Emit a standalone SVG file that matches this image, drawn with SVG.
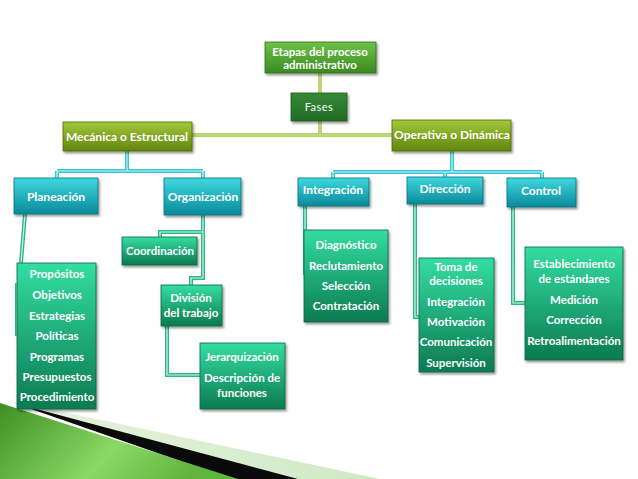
<svg xmlns="http://www.w3.org/2000/svg" width="638" height="479" viewBox="0 0 638 479">
<defs>
<linearGradient id="gTop" x1="0" y1="0" x2="0" y2="1"><stop offset="0" stop-color="#6cc247"/><stop offset="1" stop-color="#3b8a21"/></linearGradient>
<linearGradient id="gFases" x1="0" y1="0" x2="0" y2="1"><stop offset="0" stop-color="#348a36"/><stop offset="1" stop-color="#236b26"/></linearGradient>
<linearGradient id="gOlive" x1="0" y1="0" x2="0" y2="1"><stop offset="0" stop-color="#a2c83a"/><stop offset="1" stop-color="#62850f"/></linearGradient>
<linearGradient id="gCyan" x1="0" y1="0" x2="0" y2="1"><stop offset="0" stop-color="#3fd8df"/><stop offset="1" stop-color="#0a8a9a"/></linearGradient>
<linearGradient id="gTeal" x1="0" y1="0" x2="0" y2="1"><stop offset="0" stop-color="#34dda2"/><stop offset="1" stop-color="#0c7a52"/></linearGradient>
<linearGradient id="gWedge" x1="0" y1="0" x2="1" y2="0.3"><stop offset="0" stop-color="#3e8f22"/><stop offset="0.6" stop-color="#8ad866"/><stop offset="1" stop-color="#5fb43c"/></linearGradient>
<linearGradient id="gPale" x1="0" y1="0" x2="1" y2="0"><stop offset="0" stop-color="#e6f3df"/><stop offset="1" stop-color="#cfe9c4"/></linearGradient>
<filter id="sh" x="-10%" y="-10%" width="130%" height="140%"><feDropShadow dx="1.5" dy="2" stdDeviation="1.2" flood-color="#000" flood-opacity="0.4"/></filter>
</defs>
<style>
text{font-family:Lato,"Liberation Sans",sans-serif;font-weight:bold;fill:#fff;text-anchor:middle;font-size:11.5px}
.h{font-size:12px}
.reg{font-weight:normal;font-size:11px;letter-spacing:0.5px}
.box{filter:url(#sh);stroke-width:0.8}
.top{fill:url(#gTop);stroke:#2f6f1a}
.fases{fill:url(#gFases);stroke:#1c5a1f}
.olive{fill:url(#gOlive);stroke:#4f6a0c}
.cyan{fill:url(#gCyan);stroke:#0a6f7c}
.teal{fill:url(#gTeal);stroke:#0a6444}
.cg{fill:none;stroke:#9cc73f;stroke-width:3.5}
.cgi{fill:none;stroke:#d8ecb0;stroke-width:1}
.cc{fill:none;stroke:#38c6d4;stroke-width:4}
.cci{fill:none;stroke:#c8f2f5;stroke-width:1.2}
.ct{fill:none;stroke:#27bb85;stroke-width:4}
.cti{fill:none;stroke:#d0f5e6;stroke-width:1.2}
</style>
<rect width="638" height="479" fill="#fff"/>
<!-- bottom decoration -->
<polygon points="30,405 380,479 225,479" fill="url(#gPale)"/>
<polygon points="14,403 298,479 232,479" fill="#0a0a0a"/>
<polygon points="0,403 0,479 238,479" fill="url(#gWedge)"/>
<g id="connectors">
<path class="cg" d="M320,73 V93 M320,121 V135 M192,135 H392"/>
<path class="cgi" d="M320,73 V93 M320,121 V135 M192,135 H392"/>
<path class="cc" d="M127,151 V171 M57,171 H203 M57,171 V178 M203,171 V178 M452,151 V172 M333,172 H542 M333,172 V178 M445,172 V178 M542,172 V178"/>
<path class="cci" d="M127,151 V171 M57,171 H203 M57,171 V178 M203,171 V178 M452,151 V172 M333,172 H542 M333,172 V178 M445,172 V178 M542,172 V178"/>
<path class="ct" d="M25,214 L21,263 M17,283 V336 M203,215 V278 H191 V285 M203,232 H160 V237 M167,326 V375 H200 M305,206 V275 M415,204 V317 H419 M513,207 V303 H525"/>
<path class="cti" d="M25,214 L21,263 M17,283 V336 M203,215 V278 H191 V285 M203,232 H160 V237 M167,326 V375 H200 M305,206 V275 M415,204 V317 H419 M513,207 V303 H525"/>
</g>
<g id="etapas"><rect class="box top" x="265" y="42" width="111" height="31"/><text x="320" y="56">Etapas del proceso</text><text x="320" y="69">administrativo</text></g>
<g id="fases"><rect class="box fases" x="291" y="93" width="56" height="28"/><text class="reg" x="319" y="111">Fases</text></g>
<g id="mecanica"><rect class="box olive" x="63" y="122" width="129" height="29"/><text class="h" x="127" y="141">Mecánica o Estructural</text></g>
<g id="operativa"><rect class="box olive" x="392" y="120" width="119" height="31"/><text class="h" x="452" y="139">Operativa o Dinámica</text></g>
<g id="planeacion"><rect class="box cyan" x="14" y="178" width="84" height="36"/><text class="h" x="56" y="201">Planeación</text></g>
<g id="organizacion"><rect class="box cyan" x="164" y="178" width="77" height="37"/><text class="h" x="203" y="201">Organización</text></g>
<g id="integracion"><rect class="box cyan" x="298" y="178" width="71" height="28"/><text class="h" x="333" y="194">Integración</text></g>
<g id="direccion"><rect class="box cyan" x="407" y="177" width="76" height="27"/><text class="h" x="445" y="193">Dirección</text></g>
<g id="control"><rect class="box cyan" x="507" y="178" width="69" height="29"/><text class="h" x="541" y="195">Control</text></g>
<g id="planeacion-lista"><rect class="box teal" x="17" y="263" width="79" height="146"/>
<text x="57" y="278">Propósitos</text><text x="57" y="299">Objetivos</text><text x="57" y="320">Estrategias</text><text x="57" y="340">Políticas</text><text x="57" y="361">Programas</text><text x="57" y="381">Presupuestos</text><text x="57" y="401">Procedimiento</text></g>
<g id="coordinacion"><rect class="box teal" x="122" y="237" width="75" height="28"/><text x="160" y="255">Coordinación</text></g>
<g id="division"><rect class="box teal" x="161" y="285" width="61" height="41"/><text x="191" y="302">División</text><text x="191" y="317">del trabajo</text></g>
<g id="jerarquizacion"><rect class="box teal" x="200" y="343" width="85" height="66"/><text x="242" y="361">Jerarquización</text><text x="242" y="382">Descripción de</text><text x="242" y="397">funciones</text></g>
<g id="integracion-lista"><rect class="box teal" x="304" y="230" width="84" height="92"/><text x="346" y="249">Diagnóstico</text><text x="346" y="270">Reclutamiento</text><text x="346" y="290">Selección</text><text x="346" y="310">Contratación</text></g>
<g id="direccion-lista"><rect class="box teal" x="419" y="258" width="75" height="114"/><text x="456" y="271">Toma de</text><text x="456" y="285">decisiones</text><text x="456" y="306">Integración</text><text x="456" y="326">Motivación</text><text x="456" y="346">Comunicación</text><text x="456" y="367">Supervisión</text></g>
<g id="control-lista"><rect class="box teal" x="525" y="247" width="98" height="113"/><text x="574" y="268">Establecimiento</text><text x="574" y="283">de estándares</text><text x="574" y="304">Medición</text><text x="574" y="324">Corrección</text><text x="574" y="345">Retroalimentación</text></g>
</svg>
